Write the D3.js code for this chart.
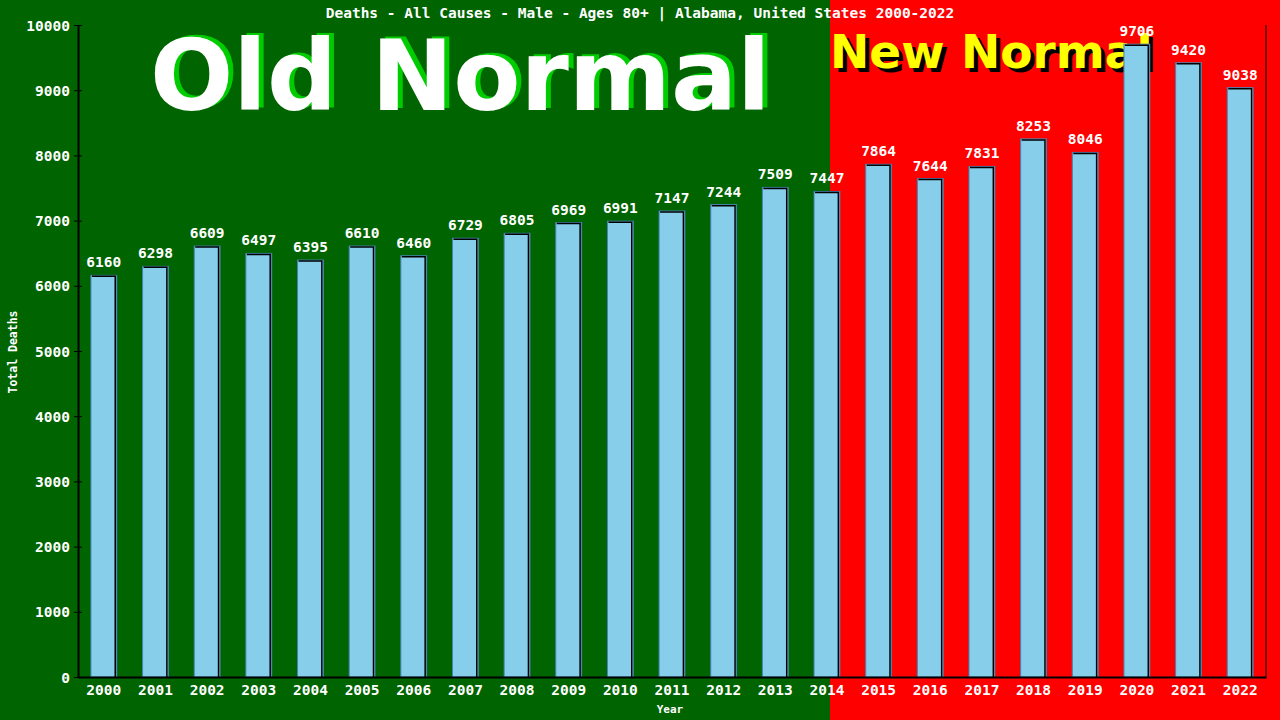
<!DOCTYPE html>
<html>
<head>
<meta charset="utf-8">
<script src="https://cdn.jsdelivr.net/npm/d3@7"></script>
<style>
  body { margin: 0; padding: 0; background: #006400; }
  svg text { font-family: "DejaVu Sans Mono", monospace; font-weight: bold; }
</style>
</head>
<body>
<div id="chart"></div>
<script>
var years = ["2000","2001","2002","2003","2004","2005","2006","2007","2008","2009","2010","2011",
             "2012","2013","2014","2015","2016","2017","2018","2019","2020","2021","2022"];
var deaths = [6160,6298,6609,6497,6395,6610,6460,6729,6805,6969,6991,7147,
              7244,7509,7447,7864,7644,7831,8253,8046,9706,9420,9038];
var yTicks = [0,1000,2000,3000,4000,5000,6000,7000,8000,9000,10000];
var chartTitle = "Deaths - All Causes - Male - Ages 80+ | Alabama, United States 2000-2022";

var width = 1280, height = 720;
var margin = {top: 25, right: 14, bottom: 43, left: 78};
var splitX = 830;

var svg = d3.select("#chart").append("svg")
    .attr("width", width)
    .attr("height", height);

// backgrounds
svg.append("rect").attr("x", 0).attr("y", 0)
    .attr("width", splitX).attr("height", height).attr("fill", "#006400");
svg.append("rect").attr("x", splitX).attr("y", 0)
    .attr("width", width - splitX).attr("height", height).attr("fill", "#ff0000");

var x = d3.scaleBand()
    .domain(years)
    .range([margin.left, width - margin.right])
    .paddingInner(0.5)
    .paddingOuter(0.25);
var y = d3.scaleLinear()
    .domain([0, 10000])
    .range([height - margin.bottom, margin.top]);

// big labels
svg.append("text").attr("x", 155).attr("y", 108)
    .style("font-family", "DejaVu Sans")
    .style("font-size", "98px").attr("fill", "#00cc00")
    .text("Old Normal");
svg.append("text").attr("x", 150).attr("y", 110)
    .style("font-family", "DejaVu Sans")
    .style("font-size", "98px").attr("fill", "white")
    .text("Old Normal");

svg.append("text").attr("x", 834).attr("y", 72)
    .style("font-family", "DejaVu Sans")
    .style("font-size", "47px").attr("fill", "black")
    .text("New Normal");
svg.append("text").attr("x", 830).attr("y", 68)
    .style("font-family", "DejaVu Sans")
    .style("font-size", "47px").attr("fill", "#ffff00")
    .text("New Normal");

// bars
var bars = svg.append("g").attr("id", "bars");
bars.selectAll(".bar")
    .data(deaths)
    .enter()
    .append("rect")
    .attr("class", "bar")
    .attr("x", function(d, i){ return x(years[i]); })
    .attr("y", function(d){ return y(d); })
    .attr("width", x.bandwidth())
    .attr("height", function(d){ return y(0) - y(d); })
    .attr("fill", "#87ceeb")
    .attr("stroke", "#4682b4")
    .attr("stroke-width", 1);
// dark edge on top and right
bars.selectAll(".edge")
    .data(deaths)
    .enter()
    .append("path")
    .attr("class", "edge")
    .attr("fill", "none")
    .attr("stroke", "black")
    .attr("stroke-width", 1.5)
    .attr("d", function(d, i){
        var x0 = x(years[i]) + 1, x1 = x(years[i]) + x.bandwidth() - 1.5, y0 = y(d) + 1;
        return "M" + x0 + "," + y0 + "H" + x1 + "V" + y(0);
    });

// value labels
svg.append("g").selectAll(".barLabel")
    .data(deaths)
    .enter()
    .append("text")
    .attr("class", "barLabel")
    .attr("x", function(d, i){ return x(years[i]) + x.bandwidth() / 2; })
    .attr("y", function(d){ return y(d) - 8; })
    .attr("fill", "white")
    .style("font-size", "14.5px")
    .style("text-anchor", "middle")
    .text(function(d){ return d; });

// axes
var yAxis = svg.append("g")
    .attr("transform", "translate(" + margin.left + ",0)")
    .call(d3.axisLeft(y).tickValues(yTicks).tickFormat(d3.format("d")).tickSize(4).tickSizeOuter(0));
yAxis.select(".domain").attr("stroke", "black").attr("stroke-width", 2);
yAxis.selectAll(".tick line").attr("stroke", "black").attr("x2", 4).attr("x1", -4);
yAxis.selectAll(".tick text")
    .attr("fill", "white").attr("x", -8).attr("dy", "0.35em")
    .style("font-family", "DejaVu Sans Mono").style("font-size", "14.5px");

var xAxis = svg.append("g")
    .attr("transform", "translate(0," + y(0) + ")")
    .call(d3.axisBottom(x).tickSize(0).tickSizeOuter(0));
xAxis.select(".domain").attr("stroke", "black").attr("stroke-width", 2);
xAxis.selectAll(".tick text")
    .attr("fill", "white").attr("y", 8)
    .style("font-family", "DejaVu Sans Mono").style("font-size", "14.5px");

// right border
svg.append("line")
    .attr("x1", width - margin.right).attr("x2", width - margin.right)
    .attr("y1", margin.top).attr("y2", y(0))
    .attr("stroke", "black").attr("stroke-width", 1);

// titles
svg.append("text")
    .attr("x", 640).attr("y", 18)
    .attr("fill", "white")
    .style("font-size", "14.5px")
    .style("text-anchor", "middle")
    .text(chartTitle);
svg.append("text")
    .attr("x", 670).attr("y", 713)
    .attr("fill", "white")
    .style("font-size", "11px")
    .style("text-anchor", "middle")
    .text("Year");
svg.append("text")
    .attr("transform", "translate(17,352) rotate(-90)")
    .attr("fill", "white")
    .style("font-size", "11.5px")
    .style("text-anchor", "middle")
    .text("Total Deaths");
</script>
</body>
</html>
